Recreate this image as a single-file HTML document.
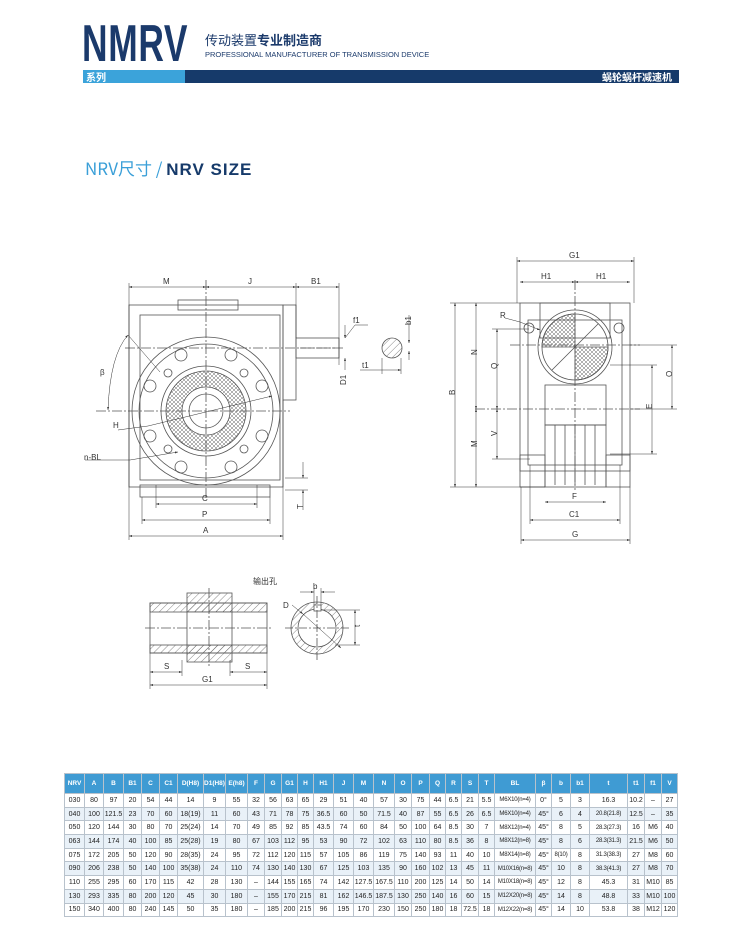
<!DOCTYPE html>
<html><head><meta charset="utf-8"><style>
body{margin:0;background:#fff;width:730px;height:930px;position:relative;overflow:hidden;font-family:"Liberation Sans","Noto Sans CJK SC",sans-serif}
.abs{position:absolute}
table{border-collapse:collapse;table-layout:fixed;position:absolute;left:64px;top:773px;width:613px}
td{border:1px solid #b8c2cc;font-size:7px;text-align:center;padding:0;height:12.7px;color:#222;white-space:nowrap;overflow:hidden}
td.s{font-size:6px;letter-spacing:-0.2px}
tr.h td{background:#3f9bd3;color:#fff;height:19px;font-size:6.5px;font-weight:bold}
tr:nth-child(odd):not(.h) td{background:#e9f1f8}
svg text{font-family:"Liberation Sans","Noto Sans CJK SC",sans-serif;font-size:8px;fill:#333}
</style></head><body>
<div class="abs" style="left:82px;top:18px;font-size:52px;font-weight:bold;color:#1b3a6b;transform:scaleX(0.68);transform-origin:left top;letter-spacing:1px;line-height:52px">NMRV</div>
<div class="abs" style="left:205px;top:30px;font-size:13px;color:#1b3a6b;font-family:'Noto Sans CJK SC',sans-serif">传动装置<b>专业制造商</b></div>
<div class="abs" style="left:205px;top:50px;font-size:7.5px;color:#1b3a6b">PROFESSIONAL MANUFACTURER OF TRANSMISSION DEVICE</div>
<div class="abs" style="left:83px;top:70px;width:102px;height:13px;background:#3ba3da"></div>
<div class="abs" style="left:185px;top:70px;width:494px;height:13px;background:#163a6a"></div>
<div class="abs" style="left:86px;top:70px;font-size:10px;line-height:13px;color:#fff;font-weight:bold;font-family:'Noto Sans CJK SC',sans-serif">系列</div>
<div class="abs" style="left:600px;top:70px;width:72px;text-align:right;font-size:10px;line-height:13px;color:#fff;font-weight:bold;font-family:'Noto Sans CJK SC',sans-serif">蜗轮蜗杆减速机</div>
<div class="abs" style="left:85px;top:155px;font-size:17px;color:#3a9fd8;font-family:'Noto Sans CJK SC',sans-serif">NRV尺寸 / <b style="color:#163a6a;font-family:'Liberation Sans',sans-serif;letter-spacing:1px">NRV SIZE</b></div>

<svg class="abs" style="left:0;top:0" width="730" height="770" viewBox="0 0 730 770">
<defs>
<pattern id="x" width="4" height="4" patternUnits="userSpaceOnUse"><path d="M0 0L4 4M4 0L0 4" stroke="#666" stroke-width="0.5"/></pattern>
<pattern id="hh" width="5" height="5" patternUnits="userSpaceOnUse" patternTransform="rotate(45)"><path d="M0 0V5" stroke="#555" stroke-width="0.7"/></pattern>
<marker id="a" viewBox="0 0 6 6" refX="6" refY="3" markerWidth="6" markerHeight="6" orient="auto-start-reverse"><path d="M0 1L6 3L0 5z" fill="#333"/></marker>
</defs>
<g stroke="#555" stroke-width="0.8" fill="none">
<rect x="129" y="305" width="154" height="182"/>
<rect x="140" y="315" width="140" height="165"/>
<rect x="178" y="300" width="60" height="10"/>
<rect x="283" y="305" width="13" height="95"/>
<rect x="296" y="338" width="43" height="20"/>
<line x1="300" y1="348" x2="335" y2="348" stroke-dasharray="6 2"/>
<circle cx="206" cy="411" r="74"/>
<circle cx="206" cy="411" r="67"/>
<circle cx="206" cy="411" r="45"/>
<circle cx="206" cy="411" r="40" fill="url(#x)"/>
<circle cx="206" cy="411" r="24" fill="#fff"/>
<circle cx="206" cy="411" r="17"/>
<g><circle cx="181" cy="355" r="6"/><circle cx="231" cy="355" r="6"/><circle cx="150" cy="386" r="6"/><circle cx="262" cy="386" r="6"/><circle cx="150" cy="436" r="6"/><circle cx="262" cy="436" r="6"/><circle cx="181" cy="467" r="6"/><circle cx="231" cy="467" r="6"/><circle cx="168" cy="373" r="4"/><circle cx="244" cy="373" r="4"/><circle cx="168" cy="449" r="4"/><circle cx="244" cy="449" r="4"/></g>
<rect x="140" y="485" width="130" height="12"/>
<line x1="96" y1="411" x2="290" y2="411" stroke-dasharray="10 2 2 2"/>
<line x1="206" y1="280" x2="206" y2="500" stroke-dasharray="10 2 2 2"/>
<line x1="125" y1="348" x2="345" y2="348" stroke-dasharray="10 2 2 2"/>
<circle cx="392" cy="348" r="10" fill="url(#hh)"/>
<g stroke="#333" stroke-width="0.5">
<line x1="129" y1="287" x2="206" y2="287" marker-start="url(#a)" marker-end="url(#a)"/>
<line x1="206" y1="287" x2="296" y2="287" marker-start="url(#a)" marker-end="url(#a)"/>
<line x1="296" y1="287" x2="339" y2="287" marker-start="url(#a)" marker-end="url(#a)"/>
<line x1="129" y1="283" x2="129" y2="540"/><line x1="283" y1="400" x2="283" y2="540"/>
<line x1="296" y1="283" x2="296" y2="338"/><line x1="339" y1="283" x2="339" y2="365"/>
<line x1="156" y1="504" x2="257" y2="504" marker-start="url(#a)" marker-end="url(#a)"/>
<line x1="142" y1="520" x2="270" y2="520" marker-start="url(#a)" marker-end="url(#a)"/>
<line x1="129" y1="536" x2="283" y2="536" marker-start="url(#a)" marker-end="url(#a)"/>
<line x1="156" y1="485" x2="156" y2="508"/><line x1="257" y1="485" x2="257" y2="508"/>
<line x1="142" y1="497" x2="142" y2="524"/><line x1="270" y1="497" x2="270" y2="524"/>
<line x1="303" y1="462" x2="303" y2="478" marker-end="url(#a)"/><line x1="303" y1="510" x2="303" y2="490" marker-end="url(#a)"/>
<line x1="285" y1="478" x2="308" y2="478"/><line x1="285" y1="490" x2="308" y2="490"/>
<line x1="345" y1="325" x2="345" y2="338" marker-end="url(#a)"/><line x1="345" y1="370" x2="345" y2="358" marker-end="url(#a)"/>
<line x1="345" y1="338" x2="355" y2="325"/><line x1="355" y1="325" x2="368" y2="325"/>
<line x1="409" y1="315" x2="409" y2="343" marker-end="url(#a)"/><line x1="409" y1="360" x2="409" y2="351" marker-end="url(#a)"/>
<line x1="360" y1="370" x2="401" y2="370" marker-end="url(#a)"/><line x1="382" y1="358" x2="382" y2="374"/><line x1="401" y1="358" x2="401" y2="374"/>
<path d="M108 410 Q110 355 128 335" marker-start="url(#a)" marker-end="url(#a)"/>
<line x1="128" y1="335" x2="160" y2="372"/>
<line x1="118" y1="430" x2="148" y2="426"/><line x1="148" y1="426" x2="272" y2="396" marker-end="url(#a)"/>
<line x1="85" y1="460" x2="130" y2="460"/><line x1="130" y1="460" x2="178" y2="452" marker-end="url(#a)"/>
</g>
<rect x="520" y="303" width="110" height="168"/>
<rect x="540" y="303" width="70" height="35"/>
<rect x="528" y="320" width="94" height="145"/>
<circle cx="575" cy="347" r="37"/>
<path d="M575 314 A33 33 0 0 0 542 347 L575 347Z" fill="url(#x)"/>
<path d="M575 380 A33 33 0 0 0 608 347 L575 347Z" fill="url(#x)"/>
<circle cx="575" cy="347" r="33"/>
<line x1="552" y1="370" x2="598" y2="324"/>
<circle cx="529" cy="328" r="5"/><circle cx="619" cy="328" r="5"/>
<rect x="545" y="385" width="61" height="40"/>
<rect x="545" y="425" width="61" height="62"/>
<g><line x1="555" y1="425" x2="555" y2="485"/><line x1="565" y1="425" x2="565" y2="485"/><line x1="575" y1="425" x2="575" y2="485"/><line x1="585" y1="425" x2="585" y2="485"/><line x1="595" y1="425" x2="595" y2="485"/></g>
<rect x="520" y="455" width="25" height="32"/><rect x="606" y="455" width="24" height="32"/>
<line x1="510" y1="345" x2="640" y2="345" stroke-dasharray="10 2 2 2"/>
<line x1="475" y1="409" x2="640" y2="409" stroke-dasharray="10 2 2 2"/>
<line x1="575" y1="280" x2="575" y2="490" stroke-dasharray="10 2 2 2"/>
<g stroke="#333" stroke-width="0.5">
<line x1="517" y1="261" x2="634" y2="261" marker-start="url(#a)" marker-end="url(#a)"/>
<line x1="520" y1="282" x2="575" y2="282" marker-start="url(#a)" marker-end="url(#a)"/>
<line x1="575" y1="282" x2="630" y2="282" marker-start="url(#a)" marker-end="url(#a)"/>
<line x1="517" y1="257" x2="517" y2="303"/><line x1="634" y1="257" x2="634" y2="303"/>
<line x1="455" y1="303" x2="455" y2="487" marker-start="url(#a)" marker-end="url(#a)"/>
<line x1="476" y1="303" x2="476" y2="409" marker-start="url(#a)" marker-end="url(#a)"/>
<line x1="476" y1="409" x2="476" y2="487" marker-start="url(#a)" marker-end="url(#a)"/>
<line x1="497" y1="329" x2="497" y2="409" marker-start="url(#a)" marker-end="url(#a)"/>
<line x1="497" y1="409" x2="497" y2="459" marker-start="url(#a)" marker-end="url(#a)"/>
<line x1="450" y1="303" x2="520" y2="303"/><line x1="450" y1="487" x2="545" y2="487"/>
<line x1="492" y1="329" x2="529" y2="329"/><line x1="492" y1="459" x2="530" y2="459"/>
<line x1="672" y1="345" x2="672" y2="409" marker-start="url(#a)" marker-end="url(#a)"/>
<line x1="652" y1="365" x2="652" y2="454" marker-start="url(#a)" marker-end="url(#a)"/>
<line x1="610" y1="365" x2="657" y2="365"/><line x1="610" y1="454" x2="657" y2="454"/><line x1="630" y1="345" x2="677" y2="345"/><line x1="630" y1="409" x2="677" y2="409"/>
<line x1="545" y1="502" x2="606" y2="502" marker-start="url(#a)" marker-end="url(#a)"/>
<line x1="530" y1="520" x2="620" y2="520" marker-start="url(#a)" marker-end="url(#a)"/>
<line x1="521" y1="540" x2="630" y2="540" marker-start="url(#a)" marker-end="url(#a)"/>
<line x1="530" y1="465" x2="530" y2="524"/><line x1="620" y1="465" x2="620" y2="524"/><line x1="521" y1="487" x2="521" y2="544"/><line x1="630" y1="487" x2="630" y2="544"/>
<line x1="505" y1="318" x2="520" y2="322"/><line x1="520" y1="322" x2="540" y2="330" marker-end="url(#a)"/>
</g>
<rect x="150" y="603" width="117" height="9" fill="url(#hh)"/>
<rect x="150" y="645" width="117" height="8" fill="url(#hh)"/>
<rect x="187" y="593" width="45" height="19" fill="url(#hh)"/>
<rect x="187" y="645" width="45" height="17" fill="url(#hh)"/>
<rect x="150" y="603" width="117" height="50"/>
<rect x="187" y="612" width="45" height="33" fill="#fff"/>
<line x1="145" y1="628" x2="272" y2="628" stroke-dasharray="10 2 2 2"/>
<line x1="209" y1="588" x2="209" y2="668" stroke-dasharray="10 2 2 2"/>
<circle cx="317" cy="628" r="26" fill="url(#hh)"/>
<circle cx="317" cy="628" r="19" fill="#fff"/>
<rect x="314" y="605" width="7" height="6" fill="#fff"/>
<line x1="285" y1="628" x2="349" y2="628" stroke-dasharray="8 2 2 2"/>
<line x1="317" y1="596" x2="317" y2="660" stroke-dasharray="8 2 2 2"/>
<g stroke="#333" stroke-width="0.5">
<line x1="150" y1="672" x2="182" y2="672" marker-start="url(#a)" marker-end="url(#a)"/>
<line x1="230" y1="672" x2="267" y2="672" marker-start="url(#a)" marker-end="url(#a)"/>
<line x1="150" y1="685" x2="267" y2="685" marker-start="url(#a)" marker-end="url(#a)"/>
<line x1="150" y1="653" x2="150" y2="689"/><line x1="267" y1="653" x2="267" y2="689"/><line x1="182" y1="660" x2="182" y2="676"/><line x1="230" y1="660" x2="230" y2="676"/>
<line x1="300" y1="592" x2="314" y2="592" marker-end="url(#a)"/><line x1="335" y1="592" x2="321" y2="592" marker-end="url(#a)"/>
<line x1="314" y1="588" x2="314" y2="605"/><line x1="321" y1="588" x2="321" y2="605"/>
<line x1="355" y1="610" x2="355" y2="645" marker-start="url(#a)" marker-end="url(#a)"/>
<line x1="321" y1="610" x2="360" y2="610"/><line x1="335" y1="645" x2="360" y2="645"/>
<line x1="292" y1="605" x2="303" y2="614" marker-end="url(#a)"/><line x1="303" y1="614" x2="341" y2="648" marker-end="url(#a)"/>
</g>
</g>
<g>
<text x="163" y="284" font-size="7">M</text><text x="248" y="284" font-size="7">J</text><text x="311" y="284" font-size="7">B1</text>
<text x="353" y="323" font-size="7">f1</text><text x="362" y="368" font-size="7">t1</text>
<text x="405" y="325" font-size="7" transform="rotate(-90 408 322)">b1</text>
<text x="343" y="388" font-size="7" transform="rotate(-90 343 385)">D1</text>
<text x="100" y="375" font-size="8">β</text><text x="113" y="428" font-size="7">H</text><text x="84" y="460" font-size="7">n-BL</text>
<text x="202" y="501" font-size="7">C</text><text x="202" y="517" font-size="7">P</text><text x="203" y="533" font-size="7">A</text>
<text x="300" y="512" font-size="7" transform="rotate(-90 300 509)">T</text>
<text x="569" y="258" font-size="7">G1</text><text x="541" y="279" font-size="7">H1</text><text x="596" y="279" font-size="7">H1</text>
<text x="500" y="318" font-size="7">R</text>
<text x="452" y="398" font-size="7" transform="rotate(-90 452 395)">B</text>
<text x="474" y="358" font-size="7" transform="rotate(-90 474 355)">N</text>
<text x="474" y="450" font-size="7" transform="rotate(-90 474 447)">M</text>
<text x="494" y="372" font-size="7" transform="rotate(-90 494 369)">Q</text>
<text x="494" y="439" font-size="7" transform="rotate(-90 494 436)">V</text>
<text x="669" y="380" font-size="7" transform="rotate(-90 669 377)">O</text>
<text x="649" y="412" font-size="7" transform="rotate(-90 649 409)">E</text>
<text x="572" y="499" font-size="7">F</text><text x="569" y="517" font-size="7">C1</text><text x="572" y="537" font-size="7">G</text>
<text x="253" y="584" font-size="9">输出孔</text>
<text x="164" y="669" font-size="7">S</text><text x="245" y="669" font-size="7">S</text><text x="202" y="682" font-size="7">G1</text>
<text x="313" y="589" font-size="7">b</text><text x="283" y="608" font-size="7">D</text>
<text x="357" y="630" font-size="7" transform="rotate(-90 357 627)">t</text>
</g>
</svg>

<table>
<colgroup><col style="width:20px"><col style="width:19px"><col style="width:20px"><col style="width:18px"><col style="width:18px"><col style="width:18px"><col style="width:26px"><col style="width:22px"><col style="width:22px"><col style="width:17px"><col style="width:17px"><col style="width:16px"><col style="width:16px"><col style="width:20px"><col style="width:20px"><col style="width:20px"><col style="width:21px"><col style="width:17px"><col style="width:18px"><col style="width:16px"><col style="width:16px"><col style="width:17px"><col style="width:16px"><col style="width:41px"><col style="width:16px"><col style="width:19px"><col style="width:19px"><col style="width:38px"><col style="width:17px"><col style="width:17px"><col style="width:16px"></colgroup>
<tr class="h"><td>NRV</td><td>A</td><td>B</td><td>B1</td><td>C</td><td>C1</td><td>D(H8)</td><td>D1(H8)</td><td>E(h8)</td><td>F</td><td>G</td><td>G1</td><td>H</td><td>H1</td><td>J</td><td>M</td><td>N</td><td>O</td><td>P</td><td>Q</td><td>R</td><td>S</td><td>T</td><td>BL</td><td>β</td><td>b</td><td>b1</td><td>t</td><td>t1</td><td>f1</td><td>V</td></tr>
<tr><td>030</td><td>80</td><td>97</td><td>20</td><td>54</td><td>44</td><td>14</td><td>9</td><td>55</td><td>32</td><td>56</td><td>63</td><td>65</td><td>29</td><td>51</td><td>40</td><td>57</td><td>30</td><td>75</td><td>44</td><td>6.5</td><td>21</td><td>5.5</td><td class="s">M6X10(n=4)</td><td>0°</td><td>5</td><td>3</td><td>16.3</td><td>10.2</td><td>–</td><td>27</td></tr>
<tr><td>040</td><td>100</td><td>121.5</td><td>23</td><td>70</td><td>60</td><td>18(19)</td><td>11</td><td>60</td><td>43</td><td>71</td><td>78</td><td>75</td><td>36.5</td><td>60</td><td>50</td><td>71.5</td><td>40</td><td>87</td><td>55</td><td>6.5</td><td>26</td><td>6.5</td><td class="s">M6X10(n=4)</td><td>45°</td><td>6</td><td>4</td><td class="s">20.8(21.8)</td><td>12.5</td><td>–</td><td>35</td></tr>
<tr><td>050</td><td>120</td><td>144</td><td>30</td><td>80</td><td>70</td><td>25(24)</td><td>14</td><td>70</td><td>49</td><td>85</td><td>92</td><td>85</td><td>43.5</td><td>74</td><td>60</td><td>84</td><td>50</td><td>100</td><td>64</td><td>8.5</td><td>30</td><td>7</td><td class="s">M8X12(n=4)</td><td>45°</td><td>8</td><td>5</td><td class="s">28.3(27.3)</td><td>16</td><td>M6</td><td>40</td></tr>
<tr><td>063</td><td>144</td><td>174</td><td>40</td><td>100</td><td>85</td><td>25(28)</td><td>19</td><td>80</td><td>67</td><td>103</td><td>112</td><td>95</td><td>53</td><td>90</td><td>72</td><td>102</td><td>63</td><td>110</td><td>80</td><td>8.5</td><td>36</td><td>8</td><td class="s">M8X12(n=8)</td><td>45°</td><td>8</td><td>6</td><td class="s">28.3(31.3)</td><td>21.5</td><td>M6</td><td>50</td></tr>
<tr><td>075</td><td>172</td><td>205</td><td>50</td><td>120</td><td>90</td><td>28(35)</td><td>24</td><td>95</td><td>72</td><td>112</td><td>120</td><td>115</td><td>57</td><td>105</td><td>86</td><td>119</td><td>75</td><td>140</td><td>93</td><td>11</td><td>40</td><td>10</td><td class="s">M8X14(n=8)</td><td>45°</td><td class="s">8(10)</td><td>8</td><td class="s">31.3(38.3)</td><td>27</td><td>M8</td><td>60</td></tr>
<tr><td>090</td><td>206</td><td>238</td><td>50</td><td>140</td><td>100</td><td>35(38)</td><td>24</td><td>110</td><td>74</td><td>130</td><td>140</td><td>130</td><td>67</td><td>125</td><td>103</td><td>135</td><td>90</td><td>160</td><td>102</td><td>13</td><td>45</td><td>11</td><td class="s">M10X16(n=8)</td><td>45°</td><td>10</td><td>8</td><td class="s">38.3(41.3)</td><td>27</td><td>M8</td><td>70</td></tr>
<tr><td>110</td><td>255</td><td>295</td><td>60</td><td>170</td><td>115</td><td>42</td><td>28</td><td>130</td><td>–</td><td>144</td><td>155</td><td>165</td><td>74</td><td>142</td><td>127.5</td><td>167.5</td><td>110</td><td>200</td><td>125</td><td>14</td><td>50</td><td>14</td><td class="s">M10X18(n=8)</td><td>45°</td><td>12</td><td>8</td><td>45.3</td><td>31</td><td>M10</td><td>85</td></tr>
<tr><td>130</td><td>293</td><td>335</td><td>80</td><td>200</td><td>120</td><td>45</td><td>30</td><td>180</td><td>–</td><td>155</td><td>170</td><td>215</td><td>81</td><td>162</td><td>146.5</td><td>187.5</td><td>130</td><td>250</td><td>140</td><td>16</td><td>60</td><td>15</td><td class="s">M12X20(n=8)</td><td>45°</td><td>14</td><td>8</td><td>48.8</td><td>33</td><td>M10</td><td>100</td></tr>
<tr><td>150</td><td>340</td><td>400</td><td>80</td><td>240</td><td>145</td><td>50</td><td>35</td><td>180</td><td>–</td><td>185</td><td>200</td><td>215</td><td>96</td><td>195</td><td>170</td><td>230</td><td>150</td><td>250</td><td>180</td><td>18</td><td>72.5</td><td>18</td><td class="s">M12X22(n=8)</td><td>45°</td><td>14</td><td>10</td><td>53.8</td><td>38</td><td>M12</td><td>120</td></tr>
</table>
</body></html>
